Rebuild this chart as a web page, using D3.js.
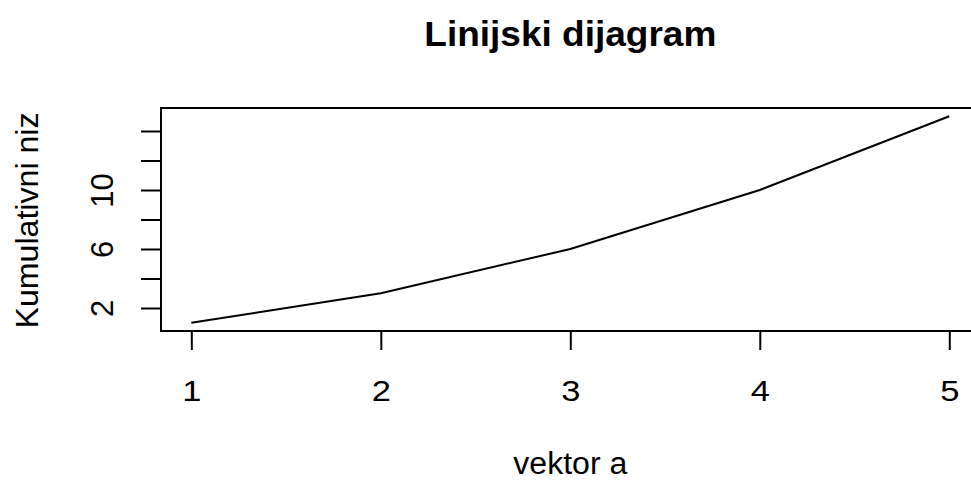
<!DOCTYPE html>
<html>
<head>
<meta charset="utf-8">
<script src="https://cdn.jsdelivr.net/npm/d3@7"></script>
<style>
  body { margin: 0; background: #fff; }
  svg { display: block; font-family: "Liberation Sans", Arial, sans-serif; }
</style>
</head>
<body>
<svg id="chart" width="971" height="482"></svg>
<script>
// data - cumulative values of vector a
const xValues = [1, 2, 3, 4, 5];
const yValues = [1, 3, 6, 10, 15];
const xTicks = [1, 2, 3, 4, 5];
const yTicks = [2, 4, 6, 8, 10, 12, 14];
const yTickLabels = [2, 6, 10]; // R drops the labels that would overlap

const width = 971;
const height = 482;
const plot = {left: 161, right: 979.6, top: 108, bottom: 331};

const svg = d3.select("#chart");

// scales, with R's 4% padding on each side
const xScale = d3.scaleLinear()
  .domain([0.84, 5.16])
  .range([plot.left, plot.right]);

const yScale = d3.scaleLinear()
  .domain([0.44, 15.56])
  .range([plot.bottom, plot.top]);

// x axis
const xAxis = svg.append("g")
  .attr("transform", `translate(0, ${plot.bottom})`)
  .call(d3.axisBottom(xScale).tickValues(xTicks).tickSize(19).tickSizeOuter(0)
    .tickFormat(d3.format("d")));
xAxis.select(".domain").remove();
xAxis.selectAll("line").attr("stroke", "#000").attr("stroke-width", 2);
xAxis.selectAll("text")
  .attr("y", 0).attr("dy", 0)
  .attr("transform", "translate(0, 70) scale(1.15, 1)")
  .attr("fill", "#000")
  .style("font-size", "30px")
  .style("font-family", "Liberation Sans, Arial, sans-serif");

// y axis
const yAxis = svg.append("g")
  .attr("transform", `translate(${plot.left}, 0)`)
  .call(d3.axisLeft(yScale).tickValues(yTicks).tickSize(20).tickSizeOuter(0)
    .tickFormat(d => yTickLabels.includes(d) ? d : ""));
yAxis.select(".domain").remove();
yAxis.selectAll("line").attr("stroke", "#000").attr("stroke-width", 2);
yAxis.selectAll("text")
  .attr("x", 0).attr("dy", 0)
  .attr("transform", "translate(-48, 0) rotate(-90)")
  .attr("text-anchor", "middle")
  .attr("fill", "#000")
  .style("font-size", "31px")
  .style("font-family", "Liberation Sans, Arial, sans-serif");

// plot box
svg.append("rect")
  .attr("x", plot.left)
  .attr("y", plot.top)
  .attr("width", plot.right - plot.left)
  .attr("height", plot.bottom - plot.top)
  .attr("fill", "none")
  .attr("stroke", "#000")
  .attr("stroke-width", 2);

// the line
const line = d3.line()
  .x((d, i) => xScale(xValues[i]))
  .y(d => yScale(d));

svg.append("path")
  .datum(yValues)
  .attr("d", line)
  .attr("fill", "none")
  .attr("stroke", "#000")
  .attr("stroke-width", 2);

// title
svg.append("text")
  .attr("x", (plot.left + plot.right) / 2)
  .attr("y", 46)
  .attr("text-anchor", "middle")
  .attr("textLength", 292)
  .attr("lengthAdjust", "spacingAndGlyphs")
  .style("font-size", "35px")
  .style("font-weight", "bold")
  .text("Linijski dijagram");

// x label
svg.append("text")
  .attr("x", (plot.left + plot.right) / 2)
  .attr("y", 474)
  .attr("text-anchor", "middle")
  .attr("textLength", 114)
  .attr("lengthAdjust", "spacingAndGlyphs")
  .style("font-size", "31px")
  .text("vektor a");

// y label
svg.append("text")
  .attr("transform", `translate(38, ${(plot.top + plot.bottom) / 2 + 1}) rotate(-90)`)
  .attr("text-anchor", "middle")
  .attr("textLength", 216)
  .attr("lengthAdjust", "spacingAndGlyphs")
  .style("font-size", "32px")
  .text("Kumulativni niz");
</script>
</body>
</html>
